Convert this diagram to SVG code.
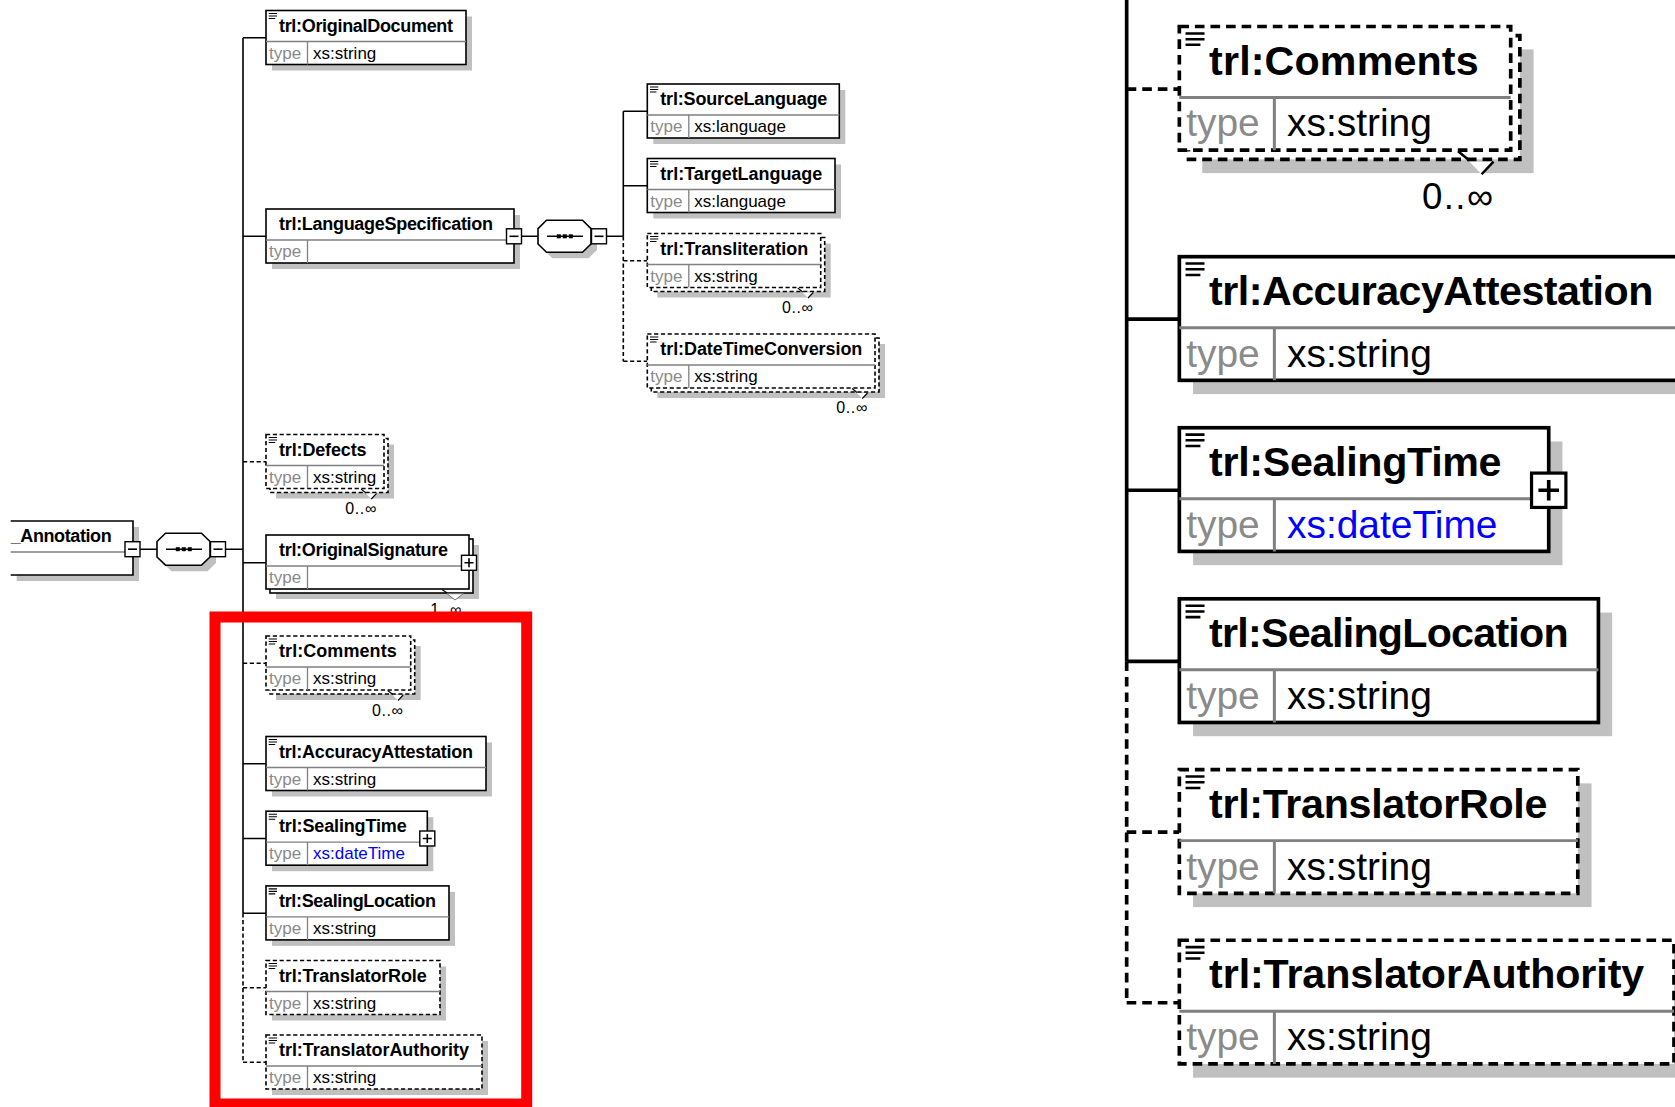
<svg xmlns="http://www.w3.org/2000/svg" width="1675" height="1107" viewBox="0 0 1675 1107">
<defs>
<style>
.sh{fill:#c0c0c0}
.bx{fill:#fff;stroke:#000;stroke-width:1.6}
.ds{stroke-dasharray:4.2 2.6}
.dv{stroke:#808080;stroke-width:1.3;fill:none}
.ic{stroke:#000;stroke-width:1.1;fill:none}
.t{font-family:"Liberation Sans",Arial,sans-serif;font-weight:bold;font-size:18px;fill:#000}
.ty{font-family:"Liberation Sans",Arial,sans-serif;font-size:17px;fill:#8a8a8a}
.v{font-family:"Liberation Sans",Arial,sans-serif;font-size:17px;fill:#000}
.b{fill:#0000ff}
.m{font-family:"Liberation Sans",Arial,sans-serif;font-size:16px;fill:#000;text-anchor:end}
.c{stroke:#000;stroke-width:1.6;fill:none}
.nl{stroke:#000;stroke-width:1.1;fill:none}
.nw{fill:#fff;stroke:none}
.pm{fill:#fff;stroke:#000;stroke-width:1.4}
.red{fill:none;stroke:#ff0000;stroke-width:11}
</style>
<clipPath id="zoomClip"><rect x="1085" y="0" width="590" height="1107"/></clipPath>
</defs>
<rect width="1675" height="1107" fill="#ffffff"/>

<g id="connectors">
<path class="c" d="M243 37.8V913.2M243 37.8H266M243 236.3H266M243 562.8H266M225.5 549.2H243M140 549.2H157M243 763.8H266M243 838.5H266M243 913.2H266"/>
<path class="c ds" d="M243 913.2V1062.3M243 461.8H266M243 663.3H266M243 987.8H266M243 1062.3H266"/>
<path class="c" d="M521.5 236.3H538M606.5 236.3H623.3M623.3 111.3V236.3M623.3 111.3H647.3M623.3 185.8H647.3"/>
<path class="c ds" d="M623.3 236.3V361.3M623.3 260.8H647.3M623.3 361.3H647.3"/>
</g>

<g id="n-Annotation">
<rect class="sh" x="16.7" y="527" width="122.3" height="54"/>
<path d="M10.7 521H133V575H10.7" fill="#fff" stroke="#000" stroke-width="1.6"/>
<path class="dv" d="M10.7 552H133"/>
<text class="t" x="10.7" y="542" textLength="101">_Annotation</text>
<rect class="pm" x="125" y="541.7" width="15" height="15"/>
<path class="c" d="M128 549.2h9"/>
</g>

<g id="seq-Annotation">
<path class="sh" d="M171.5 539.2H207.5L216 547.5V563L207.5 571.2H171.5L163 563V547.5Z"/>
<path class="bx" d="M165.5 533.2H201.5L210 541.5V557L201.5 565.2H165.5L157 557V541.5Z"/>
<path class="c" d="M166 549.2H202"/>
<rect x="175.8" y="547.2" width="4" height="4"/><rect x="181.8" y="547.2" width="4" height="4"/><rect x="187.8" y="547.2" width="4" height="4"/>
<rect class="pm" x="210.5" y="541.7" width="15" height="15"/>
<path class="c" d="M213.5 549.2h9"/>
</g>

<g id="n-OriginalDocument">
<rect class="sh" x="272" y="16.5" width="200" height="54"/>
<rect class="bx" x="266" y="10.5" width="200" height="54"/>
<path class="dv" d="M266 41.5H466M307.5 41.5V64.5"/>
<path class="ic" d="M268.7 13.5h8.3M268.7 16h8.3M268.7 18.5h6.5"/>
<text class="t" x="279" y="31.5" textLength="174">trl:OriginalDocument</text>
<text class="ty" x="269" y="58.5">type</text>
<text class="v" x="313" y="58.5">xs:string</text>
</g>

<g id="n-LanguageSpecification">
<rect class="sh" x="272" y="215" width="248" height="54"/>
<rect class="bx" x="266" y="209" width="248" height="54"/>
<path class="dv" d="M266 240H514M307.5 240V263"/>
<text class="t" x="279" y="230" textLength="214">trl:LanguageSpecification</text>
<text class="ty" x="269" y="257">type</text>
<rect class="pm" x="506.5" y="228.8" width="15" height="15"/>
<path class="c" d="M509.5 236.3h9"/>
</g>

<g id="seq-LanguageSpecification">
<path class="sh" d="M552.5 226.3H588.5L597 234.6V250L588.5 258.3H552.5L544 250V234.6Z"/>
<path class="bx" d="M546.5 220.3H582.5L591 228.6V244L582.5 252.3H546.5L538 244V228.6Z"/>
<path class="c" d="M547 236.3H583"/>
<rect x="556.8" y="234.3" width="4" height="4"/><rect x="562.8" y="234.3" width="4" height="4"/><rect x="568.8" y="234.3" width="4" height="4"/>
<rect class="pm" x="591.5" y="228.8" width="15" height="15"/>
<path class="c" d="M594.5 236.3h9"/>
</g>

<g id="n-SourceLanguage">
<rect class="sh" x="653.3" y="90" width="192" height="54"/>
<rect class="bx" x="647.3" y="84" width="192" height="54"/>
<path class="dv" d="M647.3 115H839.3M688.8 115V138"/>
<path class="ic" d="M650 87h8.3M650 89.5h8.3M650 92h6.5"/>
<text class="t" x="660.3" y="105" textLength="167">trl:SourceLanguage</text>
<text class="ty" x="650.3" y="132">type</text>
<text class="v" x="694.3" y="132">xs:language</text>
</g>

<g id="n-TargetLanguage">
<rect class="sh" x="653.3" y="164.5" width="187.7" height="54"/>
<rect class="bx" x="647.3" y="158.5" width="187.7" height="54"/>
<path class="dv" d="M647.3 189.5H835M688.8 189.5V212.5"/>
<path class="ic" d="M650 161.5h8.3M650 164h8.3M650 166.5h6.5"/>
<text class="t" x="660.3" y="179.5" textLength="162">trl:TargetLanguage</text>
<text class="ty" x="650.3" y="206.5">type</text>
<text class="v" x="694.3" y="206.5">xs:language</text>
</g>

<g id="n-Transliteration">
<rect class="sh" x="657.3" y="243.5" width="173.4" height="54"/>
<rect class="bx ds" x="651.3" y="237.5" width="173.4" height="54"/>
<rect class="bx ds" x="647.3" y="233.5" width="173.4" height="54"/>
<path class="dv" d="M647.3 264.5H820.7M688.8 264.5V287.5"/>
<path class="ic" d="M650 236.5h8.3M650 239h8.3M650 241.5h6.5"/>
<text class="t" x="660.3" y="254.5" textLength="148">trl:Transliteration</text>
<text class="ty" x="650.3" y="281.5">type</text>
<text class="v" x="694.3" y="281.5">xs:string</text>
<path class="nl" d="M797.7 288L802.7 292"/>
<path class="nw" d="M802.7 292.5H813.2L808 298Z"/>
<path class="nl" d="M808 298L813.2 292.5"/>
<text class="m" x="813" y="312.7" textLength="31">0..∞</text>
</g>

<g id="n-DateTimeConversion">
<rect class="sh" x="657.3" y="344" width="227.7" height="54"/>
<rect class="bx ds" x="651.3" y="338" width="227.7" height="54"/>
<rect class="bx ds" x="647.3" y="334" width="227.7" height="54"/>
<path class="dv" d="M647.3 365H875M688.8 365V388"/>
<path class="ic" d="M650 337h8.3M650 339.5h8.3M650 342h6.5"/>
<text class="t" x="660.3" y="355" textLength="202">trl:DateTimeConversion</text>
<text class="ty" x="650.3" y="382">type</text>
<text class="v" x="694.3" y="382">xs:string</text>
<path class="nl" d="M852 388.5L857 392.5"/>
<path class="nw" d="M857 393H867.5L862.3 398.5Z"/>
<path class="nl" d="M862.3 398.5L867.5 393"/>
<text class="m" x="867.3" y="413.2" textLength="31">0..∞</text>
</g>

<g id="n-Defects">
<rect class="sh" x="276" y="444.5" width="118" height="54"/>
<rect class="bx ds" x="270" y="438.5" width="118" height="54"/>
<rect class="bx ds" x="266" y="434.5" width="118" height="54"/>
<path class="dv" d="M266 465.5H384M307.5 465.5V488.5"/>
<path class="ic" d="M268.7 437.5h8.3M268.7 440h8.3M268.7 442.5h6.5"/>
<text class="t" x="279" y="455.5" textLength="87.5">trl:Defects</text>
<text class="ty" x="269" y="482.5">type</text>
<text class="v" x="313" y="482.5">xs:string</text>
<path class="nl" d="M361 489L366 493"/>
<path class="nw" d="M366 493.5H376.5L371.3 499Z"/>
<path class="nl" d="M371.3 499L376.5 493.5"/>
<text class="m" x="376.3" y="513.7" textLength="31">0..∞</text>
</g>

<g id="n-OriginalSignature">
<rect class="sh" x="276" y="545" width="203" height="54"/>
<rect class="bx" x="270" y="539" width="203" height="54"/>
<rect class="bx" x="266" y="535" width="203" height="54"/>
<path class="dv" d="M266 566H469M307.5 566V589"/>
<text class="t" x="279" y="556" textLength="169">trl:OriginalSignature</text>
<text class="ty" x="269" y="583">type</text>
<rect class="pm" x="461.5" y="555.3" width="15" height="15"/>
<path class="c" d="M464.5 562.8h9M469 558.3v9"/>
<path class="nl" d="M442 589.5L447 593"/>
<path d="M447 593.7H463.3L455 600Z" fill="#fff" stroke="#707070" stroke-width="1"/>
<text class="m" x="461.3" y="614.7" textLength="31">1..∞</text>
</g>

<g id="n-Comments">
<rect class="sh" x="276" y="646" width="144.7" height="54"/>
<rect class="bx ds" x="270" y="640" width="144.7" height="54"/>
<rect class="bx ds" x="266" y="636" width="144.7" height="54"/>
<path class="dv" d="M266 667H410.7M307.5 667V690"/>
<path class="ic" d="M268.7 639h8.3M268.7 641.5h8.3M268.7 644h6.5"/>
<text class="t" x="279" y="657" textLength="117.7">trl:Comments</text>
<text class="ty" x="269" y="684">type</text>
<text class="v" x="313" y="684">xs:string</text>
<path class="nl" d="M387.7 690.5L392.7 694.5"/>
<path class="nw" d="M392.7 695H403.2L398 700.5Z"/>
<path class="nl" d="M398 700.5L403.2 695"/>
<text class="m" x="403" y="715.7" textLength="31">0..∞</text>
</g>

<g id="n-AccuracyAttestation">
<rect class="sh" x="272" y="742.5" width="220" height="54"/>
<rect class="bx" x="266" y="736.5" width="220" height="54"/>
<path class="dv" d="M266 767.5H486M307.5 767.5V790.5"/>
<path class="ic" d="M268.7 739.5h8.3M268.7 742h8.3M268.7 744.5h6.5"/>
<text class="t" x="279" y="757.5" textLength="194">trl:AccuracyAttestation</text>
<text class="ty" x="269" y="784.5">type</text>
<text class="v" x="313" y="784.5">xs:string</text>
</g>

<g id="n-SealingTime">
<rect class="sh" x="272" y="817.2" width="161.3" height="54"/>
<rect class="bx" x="266" y="811.2" width="161.3" height="54"/>
<path class="dv" d="M266 842.2H427.3M307.5 842.2V865.2"/>
<path class="ic" d="M268.7 814.2h8.3M268.7 816.7h8.3M268.7 819.2h6.5"/>
<text class="t" x="279" y="832.2" textLength="127.7">trl:SealingTime</text>
<text class="ty" x="269" y="859.2">type</text>
<text class="v b" x="313" y="859.2">xs:dateTime</text>
<rect class="pm" x="419.8" y="831" width="15" height="15"/>
<path class="c" d="M422.8 838.5h9M427.3 834v9"/>
</g>

<g id="n-SealingLocation">
<rect class="sh" x="272" y="891.9" width="183" height="54"/>
<rect class="bx" x="266" y="885.9" width="183" height="54"/>
<path class="dv" d="M266 916.9H449M307.5 916.9V939.9"/>
<path class="ic" d="M268.7 888.9h8.3M268.7 891.4h8.3M268.7 893.9h6.5"/>
<text class="t" x="279" y="906.9" textLength="157">trl:SealingLocation</text>
<text class="ty" x="269" y="933.9">type</text>
<text class="v" x="313" y="933.9">xs:string</text>
</g>

<g id="n-TranslatorRole">
<rect class="sh" x="272" y="966.5" width="174" height="54"/>
<rect class="bx ds" x="266" y="960.5" width="174" height="54"/>
<path class="dv" d="M266 991.5H440M307.5 991.5V1014.5"/>
<path class="ic" d="M268.7 963.5h8.3M268.7 966h8.3M268.7 968.5h6.5"/>
<text class="t" x="279" y="981.5" textLength="147.7">trl:TranslatorRole</text>
<text class="ty" x="269" y="1008.5">type</text>
<text class="v" x="313" y="1008.5">xs:string</text>
</g>

<g id="n-TranslatorAuthority">
<rect class="sh" x="272" y="1041" width="216" height="54"/>
<rect class="bx ds" x="266" y="1035" width="216" height="54"/>
<path class="dv" d="M266 1066H482M307.5 1066V1089"/>
<path class="ic" d="M268.7 1038h8.3M268.7 1040.5h8.3M268.7 1043h6.5"/>
<text class="t" x="279" y="1056" textLength="190">trl:TranslatorAuthority</text>
<text class="ty" x="269" y="1083">type</text>
<text class="v" x="313" y="1083">xs:string</text>
</g>

<rect id="highlight" class="red" x="215" y="617" width="311.7" height="487"/>

<g id="zoom-panel" clip-path="url(#zoomClip)">
<g transform="matrix(2.29 0 0 2.29 570.2 -1429.9)">
<g id="zoom-connectors">
<path class="c" d="M243 600V913.2M243 763.8H266M243 838.5H266M243 913.2H266"/>
<path class="c ds" d="M243 913.2V1062.3M243 663.3H266M243 987.8H266M243 1062.3H266"/>
</g>
<g id="z-Comments">
<rect class="sh" x="276" y="646" width="144.7" height="54"/>
<rect class="bx ds" x="270" y="640" width="144.7" height="54"/>
<rect class="bx ds" x="266" y="636" width="144.7" height="54"/>
<path class="dv" d="M266 667H410.7M307.5 667V690"/>
<path class="ic" d="M268.7 639h8.3M268.7 641.5h8.3M268.7 644h6.5"/>
<text class="t" x="279" y="657" textLength="117.7">trl:Comments</text>
<text class="ty" x="269" y="684">type</text>
<text class="v" x="313" y="684">xs:string</text>
<path class="nl" d="M387.7 690.5L392.7 694.5"/>
<path class="nw" d="M392.7 695H403.2L398 700.5Z"/>
<path class="nl" d="M398 700.5L403.2 695"/>
<text class="m" x="403" y="715.7" textLength="31">0..∞</text>
</g>
<g id="z-AccuracyAttestation">
<rect class="sh" x="272" y="742.5" width="220" height="54"/>
<rect class="bx" x="266" y="736.5" width="220" height="54"/>
<path class="dv" d="M266 767.5H486M307.5 767.5V790.5"/>
<path class="ic" d="M268.7 739.5h8.3M268.7 742h8.3M268.7 744.5h6.5"/>
<text class="t" x="279" y="757.5" textLength="194">trl:AccuracyAttestation</text>
<text class="ty" x="269" y="784.5">type</text>
<text class="v" x="313" y="784.5">xs:string</text>
</g>
<g id="z-SealingTime">
<rect class="sh" x="272" y="817.2" width="161.3" height="54"/>
<rect class="bx" x="266" y="811.2" width="161.3" height="54"/>
<path class="dv" d="M266 842.2H427.3M307.5 842.2V865.2"/>
<path class="ic" d="M268.7 814.2h8.3M268.7 816.7h8.3M268.7 819.2h6.5"/>
<text class="t" x="279" y="832.2" textLength="127.7">trl:SealingTime</text>
<text class="ty" x="269" y="859.2">type</text>
<text class="v b" x="313" y="859.2">xs:dateTime</text>
<rect class="pm" x="419.8" y="831" width="15" height="15"/>
<path class="c" d="M422.8 838.5h9M427.3 834v9"/>
</g>
<g id="z-SealingLocation">
<rect class="sh" x="272" y="891.9" width="183" height="54"/>
<rect class="bx" x="266" y="885.9" width="183" height="54"/>
<path class="dv" d="M266 916.9H449M307.5 916.9V939.9"/>
<path class="ic" d="M268.7 888.9h8.3M268.7 891.4h8.3M268.7 893.9h6.5"/>
<text class="t" x="279" y="906.9" textLength="157">trl:SealingLocation</text>
<text class="ty" x="269" y="933.9">type</text>
<text class="v" x="313" y="933.9">xs:string</text>
</g>
<g id="z-TranslatorRole">
<rect class="sh" x="272" y="966.5" width="174" height="54"/>
<rect class="bx ds" x="266" y="960.5" width="174" height="54"/>
<path class="dv" d="M266 991.5H440M307.5 991.5V1014.5"/>
<path class="ic" d="M268.7 963.5h8.3M268.7 966h8.3M268.7 968.5h6.5"/>
<text class="t" x="279" y="981.5" textLength="147.7">trl:TranslatorRole</text>
<text class="ty" x="269" y="1008.5">type</text>
<text class="v" x="313" y="1008.5">xs:string</text>
</g>
<g id="z-TranslatorAuthority">
<rect class="sh" x="272" y="1041" width="216" height="54"/>
<rect class="bx ds" x="266" y="1035" width="216" height="54"/>
<path class="dv" d="M266 1066H482M307.5 1066V1089"/>
<path class="ic" d="M268.7 1038h8.3M268.7 1040.5h8.3M268.7 1043h6.5"/>
<text class="t" x="279" y="1056" textLength="190">trl:TranslatorAuthority</text>
<text class="ty" x="269" y="1083">type</text>
<text class="v" x="313" y="1083">xs:string</text>
</g>
</g>
</g>
</svg>
